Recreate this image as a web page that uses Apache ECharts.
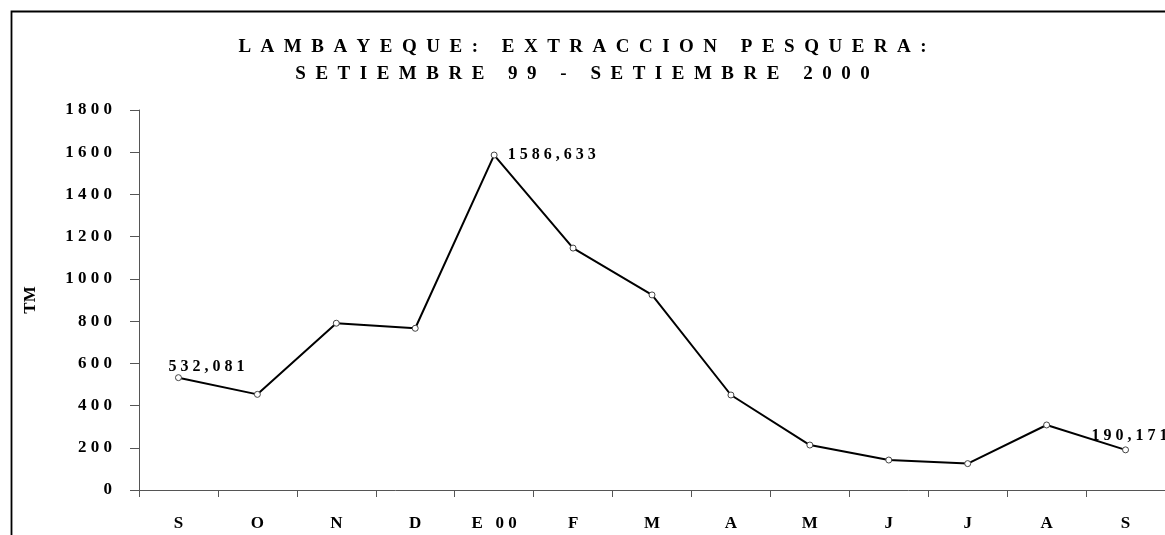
<!DOCTYPE html>
<html>
<head>
<meta charset="utf-8">
<script src="https://cdn.jsdelivr.net/npm/echarts@6/dist/echarts.min.js"></script>
<style>
  html, body { margin: 0; background: #fff; }
  #chart { width: 1165px; height: 535px; }
</style>
</head>
<body>
<div id="chart"></div>
<script>
// months Set 99 - Set 2000
const months = ["S", "O", "N", "D", "E 00", "F", "M", "A", "M", "J", "J", "A", "S"];
// extraccion (TM)
const tm = [532.081, 453, 790, 766, 1586.633, 1146, 924, 450, 213, 142, 125, 308, 190.171];
const yMin = 0;
const yMax = 1800;
const yStep = 200;
const titleLines = ["LAMBAYEQUE: EXTRACCION PESQUERA:", "SETIEMBRE 99 - SETIEMBRE 2000"];

const serif = '"Liberation Serif", "Times New Roman", serif';

// old excel look: letters spread out
function spaced(s, sep) {
  return s.split("").join(sep || " ");
}

// which points carry a value label, and where
const labelAt = {
  0: { position: "top", offset: [28, 6] },
  4: { position: "right", distance: 10 },
  12: { position: "top", offset: [4, 3] }
};

const seriesData = tm.map((v, i) => {
  if (!labelAt[i]) return v;
  return { value: v, label: Object.assign({ show: true }, labelAt[i]) };
});

const chart = echarts.init(document.getElementById("chart"));

const option = {
  animation: false,
  backgroundColor: "#fff",
  title: {
    text: titleLines.map(t => spaced(t, "  ")).join("\n"),
    left: "center",
    top: 29,
    textStyle: {
      fontFamily: serif,
      fontWeight: "bold",
      fontSize: 19,
      lineHeight: 27,
      color: "#000"
    }
  },
  graphic: [
    {
      type: "rect",
      shape: { x: 11.5, y: 11.5, width: 1300, height: 700 },
      style: { fill: "none", stroke: "#000", lineWidth: 1.8 },
      silent: true
    }
  ],
  grid: {
    left: 139,
    right: -6,
    top: 110,
    bottom: 45
  },
  xAxis: {
    type: "category",
    data: months,
    boundaryGap: true,
    axisLine: { lineStyle: { color: "#555", width: 1 } },
    axisTick: { show: true, length: 7, lineStyle: { color: "#555" } },
    axisLabel: {
      margin: 25,
      fontFamily: serif,
      fontWeight: "bold",
      fontSize: 17,
      color: "#000",
      formatter: v => spaced(v)
    },
    splitLine: { show: false }
  },
  yAxis: {
    type: "value",
    min: yMin,
    max: yMax,
    interval: yStep,
    name: "TM",
    nameLocation: "middle",
    nameGap: 100,
    nameRotate: 90,
    nameTextStyle: {
      fontFamily: serif,
      fontWeight: "bold",
      fontSize: 17,
      color: "#000"
    },
    axisLine: { show: true, lineStyle: { color: "#555", width: 1 } },
    axisTick: { show: true, length: 9, lineStyle: { color: "#555" } },
    axisLabel: {
      margin: 27,
      fontFamily: serif,
      fontWeight: "bold",
      fontSize: 17,
      color: "#000",
      formatter: v => spaced(String(v))
    },
    splitLine: { show: false }
  },
  series: [
    {
      name: "TM",
      type: "line",
      data: seriesData,
      symbol: "circle",
      symbolSize: 6,
      showAllSymbol: true,
      lineStyle: { color: "#000", width: 2 },
      itemStyle: { color: "#fff", borderColor: "#444", borderWidth: 1 },
      label: {
        show: false,
        fontFamily: serif,
        fontWeight: "bold",
        fontSize: 16,
        color: "#000",
        formatter: p => spaced(p.value.toFixed(3).replace(".", ","))
      },
      emphasis: { disabled: true }
    }
  ]
};

chart.setOption(option);
window.addEventListener("resize", () => chart.resize());
</script>
</body>
</html>
